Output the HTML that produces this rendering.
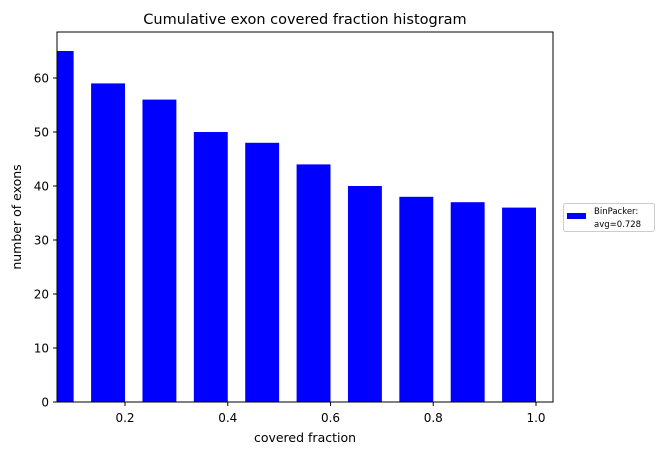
<!DOCTYPE html>
<html><head><meta charset="utf-8"><style>
body{margin:0;background:#fff;}
svg text{font-family:"DejaVu Sans","Liberation Sans",sans-serif;}
</style></head><body>
<svg id="c" width="663" height="455" xmlns="http://www.w3.org/2000/svg">
<rect width="663" height="455" fill="#fff"/>
<defs><clipPath id="clip"><rect x="57" y="32" width="496" height="370"/></clipPath></defs>
<g id="bars" clip-path="url(#clip)"></g>
<g id="axes"></g>
</svg>
<script>
const categories=[0.1,0.2,0.3,0.4,0.5,0.6,0.7,0.8,0.9,1.0];
const values=[65,59,56,50,48,44,40,38,37,36];
const xTicks=[0.2,0.4,0.6,0.8,1.0];
const yTicks=[0,10,20,30,40,50,60];
const L=57,R=553,T=32,B=402;
const x0=22.25,xs=513.75;
function X(v){return x0+v*xs;}
function Y(v){return B-v*5.4;}
const NS='http://www.w3.org/2000/svg';
function mk(t,a,p){const e=document.createElementNS(NS,t);for(const k in a)e.setAttribute(k,a[k]);p.appendChild(e);return e;}
const bars=document.getElementById('bars'),ax=document.getElementById('axes');
const bw=0.066;
categories.forEach((c,i)=>{
  const r=mk('rect',{x:X(c-bw),y:Y(values[i]),width:bw*xs,height:B-Y(values[i]),fill:'#0000ff'},bars);
  
  
});
const fr=mk('rect',{x:L,y:T,width:R-L,height:B-T,fill:'none',stroke:'#000','stroke-width':1},ax);


xTicks.forEach(t=>{
  mk('line',{x1:X(t),x2:X(t),y1:B,y2:B+4,stroke:'#000'},ax);
  const tx=mk('text',{x:X(t),y:B+20,'text-anchor':'middle','font-size':12},ax);tx.textContent=t.toFixed(1);
  
  
});
yTicks.forEach(t=>{
  mk('line',{x1:L-4,x2:L,y1:Y(t),y2:Y(t),stroke:'#000'},ax);
  const tx=mk('text',{x:L-8,y:Y(t)+4.5,'text-anchor':'end','font-size':12},ax);tx.textContent=t;
  
  
});
let t=mk('text',{x:305,y:24,'text-anchor':'middle','font-size':14.5},ax);t.textContent='Cumulative exon covered fraction histogram';


t=mk('text',{x:305,y:442,'text-anchor':'middle','font-size':12.5},ax);t.textContent='covered fraction';


t=mk('text',{x:21,y:217,'text-anchor':'middle','font-size':12.5,transform:'rotate(-90 21 217)'},ax);t.textContent='number of exons';


const lg=mk('g',{},ax);


mk('rect',{x:563.5,y:203.5,width:91,height:28,rx:2,fill:'#fff',stroke:'#ccc'},lg);
mk('rect',{x:567,y:213,width:19,height:6,fill:'#0000ff'},lg);
t=mk('text',{x:594,y:214,'font-size':8.5},lg);t.textContent='BinPacker:';
t=mk('text',{x:594,y:227,'font-size':8.5},lg);t.textContent='avg=0.728';
</script>
</body></html>
